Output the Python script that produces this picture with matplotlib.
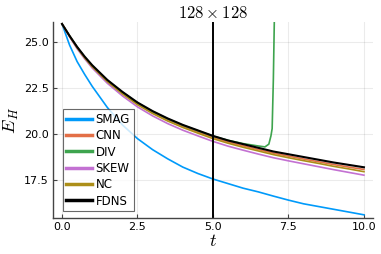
import matplotlib
matplotlib.use("Agg")
import matplotlib.pyplot as plt

plt.rcParams['mathtext.fontset'] = 'cm'

# time grid
t = [0.0, 0.25, 0.5, 0.75, 1.0, 1.5, 2.0, 2.5, 3.0, 3.5, 4.0, 4.5, 5.0,
     5.5, 6.0, 6.5, 7.0, 7.5, 8.0, 8.5, 9.0, 9.5, 10.0]

smag = [26.0, 24.85, 23.95, 23.25, 22.6, 21.45, 20.5, 19.75, 19.15, 18.65, 18.2, 17.85, 17.55,
        17.3, 17.05, 16.85, 16.62, 16.4, 16.2, 16.05, 15.9, 15.75, 15.6]
fdns = [26.0, 25.35, 24.75, 24.22, 23.75, 22.95, 22.3, 21.72, 21.25, 20.85, 20.5, 20.2, 19.9,
        19.65, 19.45, 19.25, 19.05, 18.9, 18.75, 18.6, 18.45, 18.32, 18.19]
cnn = [26.0, 25.34, 24.72, 24.18, 23.7, 22.9, 22.23, 21.65, 21.17, 20.77, 20.42, 20.11, 19.82,
       19.57, 19.36, 19.16, 18.96, 18.8, 18.64, 18.49, 18.34, 18.2, 18.07]
nc = [26.0, 25.33, 24.7, 24.15, 23.67, 22.86, 22.19, 21.6, 21.12, 20.71, 20.36, 20.05, 19.75,
      19.5, 19.28, 19.08, 18.88, 18.71, 18.55, 18.4, 18.24, 18.1, 17.95]
skew = [26.0, 25.3, 24.65, 24.1, 23.6, 22.77, 22.08, 21.48, 20.99, 20.57, 20.21, 19.9, 19.6,
        19.34, 19.12, 18.91, 18.71, 18.54, 18.38, 18.22, 18.06, 17.91, 17.76]

# DIV follows FDNS and then blows up just before t = 7
t_div = [0.0, 0.25, 0.5, 0.75, 1.0, 1.5, 2.0, 2.5, 3.0, 3.5, 4.0, 4.5, 5.0, 5.5, 6.0, 6.5,
         6.72, 6.85, 6.92, 6.96, 7.0, 7.035, 7.06]
div = [26.0, 25.35, 24.74, 24.2, 23.73, 22.93, 22.28, 21.7, 21.23, 20.83, 20.48, 20.18, 19.89,
       19.66, 19.48, 19.35, 19.3, 19.45, 19.9, 20.3, 23.0, 26.5, 30.0]

fig = plt.figure(figsize=(3.81, 2.54), dpi=100)
ax = fig.add_axes([0.139, 0.142, 0.840, 0.771])

ax.plot(t, smag, color='#009AFA', lw=1.2, label='SMAG')
ax.plot(t, cnn, color='#E36F47', lw=1.2, label='CNN')
ax.plot(t_div, div, color='#3EA44E', lw=1.2, label='DIV')
ax.plot(t, skew, color='#C371D2', lw=1.2, label='SKEW')
ax.plot(t, nc, color='#AC8E18', lw=1.2, label='NC')
ax.plot(t, fdns, color='black', lw=1.5, label='FDNS')
ax.axvline(5.0, color='black', lw=1.4)

ax.set_xlim(-0.3, 10.3)
ax.set_ylim(15.43, 26.1)
ax.set_xticks([0.0, 2.5, 5.0, 7.5, 10.0])
ax.set_yticks([17.5, 20.0, 22.5, 25.0])
ax.set_xticklabels(['0.0', '2.5', '5.0', '7.5', '10.0'])
ax.set_yticklabels(['17.5', '20.0', '22.5', '25.0'])
ax.tick_params(direction='in', length=3, labelsize=8, color='#444444', pad=3)
ax.grid(True, color='#000000', alpha=0.08, lw=0.8)
for s in ['top', 'right']:
    ax.spines[s].set_visible(False)
for s in ['left', 'bottom']:
    ax.spines[s].set_color('#444444')
    ax.spines[s].set_linewidth(1.0)

ax.set_title(r'$128\times128$', fontsize=12, pad=3)
ax.set_xlabel(r'$t$', fontsize=13, labelpad=0)
ax.set_ylabel(r'$\bar{E}_H$', fontsize=13, labelpad=2)

leg = ax.legend(loc='lower left', bbox_to_anchor=(0.03, 0.035), fontsize=8.5,
                frameon=True, fancybox=False, borderpad=0.3, labelspacing=0.28,
                handlelength=2.2, handletextpad=0.3, borderaxespad=0)
leg.get_frame().set_edgecolor('#444444')
leg.get_frame().set_linewidth(0.8)
for line in leg.get_lines():
    line.set_linewidth(2.5)

fig.savefig('out.png', dpi=100)
